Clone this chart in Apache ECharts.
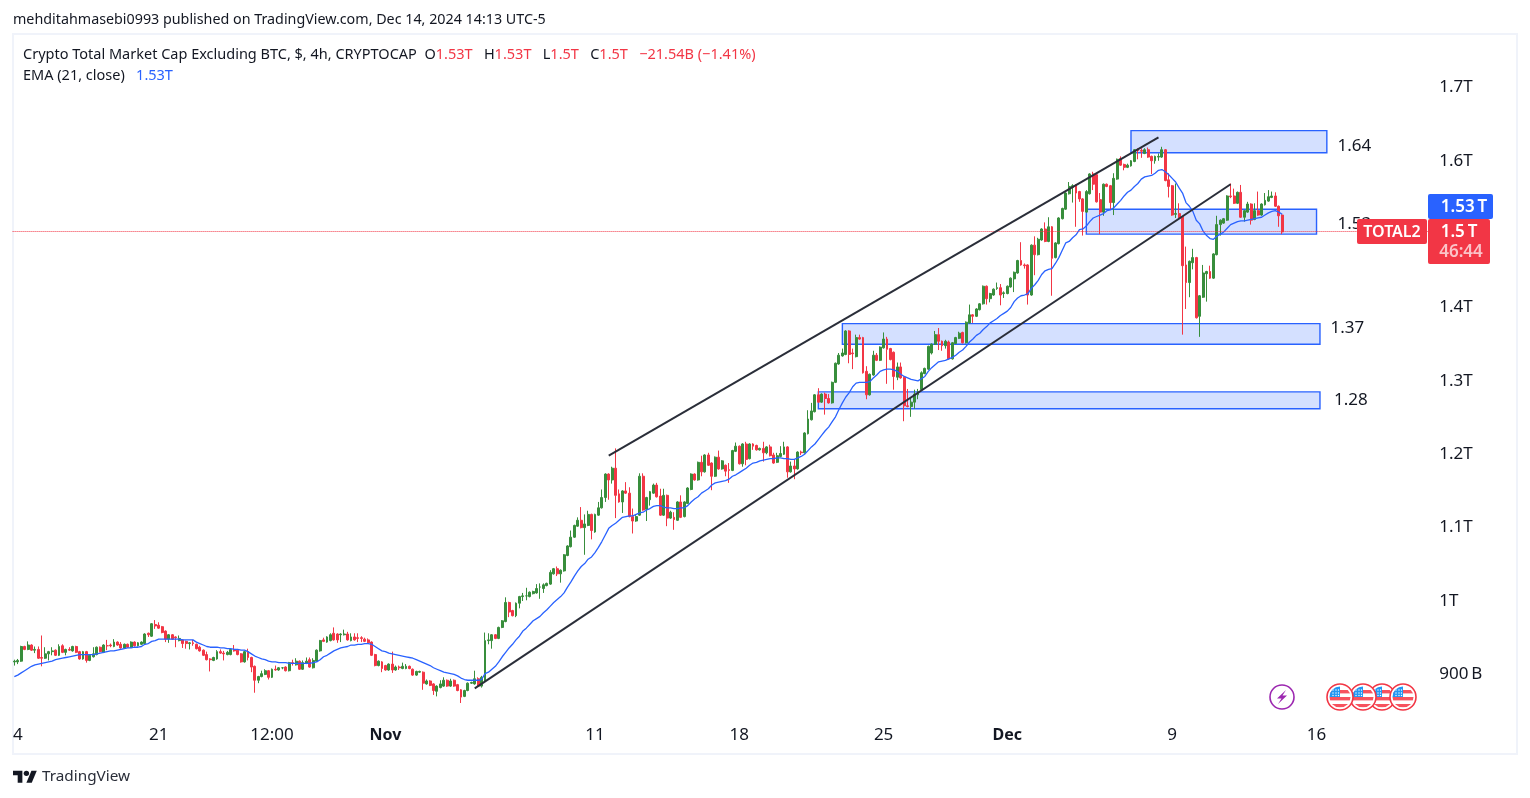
<!DOCTYPE html>
<html>
<head>
<meta charset="utf-8">
<title>TOTAL2</title>
<style>
  html, body { margin: 0; padding: 0; background: #fff; }
  #chart { width: 1530px; height: 798px; }
</style>
<script src="https://cdn.jsdelivr.net/npm/echarts@6/dist/echarts.min.js"></script>
</head>
<body>
<div id="chart"></div>
<script>
// values in billions of USD, one per 4h candle
const opens = [
917,917,918,938,934,940,933,934,923,922,
928,931,933,926,939,930,934,932,938,931,
921,931,919,924,927,937,930,939,940,938,
944,941,936,941,937,944,939,941,942,956,
952,968,967,965,959,948,954,951,946,947,
945,942,943,941,937,933,927,921,919,921,
931,929,927,927,934,933,928,917,931,923,
911,892,897,900,905,896,907,906,909,910,
905,916,913,918,907,915,920,909,918,932,
947,944,946,956,955,954,954,955,946,951,
950,950,948,947,944,927,912,917,912,906,
914,906,910,908,908,911,907,899,903,903,
887,891,887,877,882,884,892,884,892,886,
879,870,878,888,887,894,884,891,946,946,
954,949,964,972,998,987,980,997,1006,1007,
1006,1010,1011,1019,1017,1021,1023,1037,1044,1037,
1041,1062,1074,1087,1102,1110,1100,1103,1118,1094,
1117,1127,1141,1173,1165,1181,1146,1135,1150,1147,
1115,1109,1117,1170,1125,1138,1147,1158,1143,1117,
1144,1113,1114,1110,1135,1115,1133,1152,1173,1165,
1189,1176,1199,1188,1170,1196,1180,1185,1179,1178,
1204,1211,1187,1214,1194,1214,1212,1206,1208,1202,
1210,1199,1189,1197,1200,1210,1176,1184,1180,1203,
1202,1228,1247,1258,1281,1271,1282,1276,1270,1298,
1323,1334,1336,1368,1338,1333,1359,1359,1313,1281,
1308,1335,1328,1345,1357,1344,1339,1305,1319,1305,
1266,1265,1271,1281,1288,1310,1316,1338,1350,1363,
1354,1348,1353,1330,1351,1358,1366,1352,1379,1390,
1388,1397,1405,1429,1412,1417,1426,1427,1419,1419,
1428,1439,1447,1464,1458,1458,1417,1485,1472,1492,
1507,1490,1510,1468,1487,1521,1534,1555,1564,1567,
1558,1548,1530,1555,1582,1581,1547,1530,1568,1566,
1543,1575,1603,1595,1591,1593,1599,1615,1614,1610,
1615,1606,1600,1605,1605,1615,1574,1566,1527,1528,
1524,1458,1434,1461,1468,1388,1414,1446,1449,1440,
1472,1513,1515,1519,1552,1552,1542,1557,1523,1530,
1541,1520,1532,1526,1540,1545,1550,1552,1538,1526];

const closes = [
918,919,938,934,940,933,934,922,922,928,
931,932,926,938,930,934,933,938,930,921,
931,919,926,928,937,931,940,939,939,944,
940,936,941,937,944,939,943,944,955,954,
969,966,963,957,948,954,948,950,949,942,
942,943,942,935,932,926,920,920,923,931,
929,928,930,934,932,927,917,931,923,910,
892,897,901,905,896,907,906,909,909,905,
916,915,918,907,916,918,910,919,933,946,
945,951,954,947,947,955,955,947,951,947,
949,949,945,943,926,912,918,908,906,914,
906,910,909,911,911,908,899,904,904,888,
891,885,878,884,887,892,884,891,884,878,
869,878,888,889,894,884,896,946,947,954,
949,964,973,998,985,980,997,1006,1007,1007,
1012,1013,1017,1019,1022,1024,1039,1044,1037,1042,
1063,1075,1087,1103,1110,1100,1105,1118,1096,1118,
1127,1141,1173,1165,1181,1144,1135,1150,1147,1115,
1109,1115,1170,1124,1141,1149,1158,1142,1117,1144,
1113,1121,1111,1135,1114,1135,1154,1173,1165,1189,
1176,1199,1185,1170,1196,1180,1191,1177,1178,1205,
1211,1187,1214,1193,1214,1211,1206,1208,1202,1210,
1198,1188,1198,1201,1210,1176,1184,1180,1203,1202,
1229,1248,1259,1281,1271,1282,1276,1270,1298,1324,
1335,1338,1368,1336,1337,1359,1357,1311,1281,1309,
1335,1328,1346,1357,1343,1329,1306,1319,1304,1266,
1265,1271,1282,1285,1311,1317,1347,1350,1363,1354,
1348,1354,1330,1352,1359,1365,1352,1380,1390,1388,
1398,1405,1429,1412,1419,1425,1427,1417,1420,1429,
1440,1448,1464,1458,1457,1417,1485,1472,1493,1507,
1490,1510,1467,1488,1522,1535,1556,1565,1566,1556,
1548,1531,1558,1582,1568,1544,1530,1568,1565,1543,
1576,1602,1594,1591,1594,1600,1615,1614,1613,1615,
1605,1600,1606,1606,1615,1573,1565,1526,1528,1522,
1457,1434,1463,1468,1386,1416,1447,1449,1440,1473,
1513,1519,1521,1552,1551,1542,1557,1523,1532,1541,
1519,1532,1526,1541,1546,1551,1552,1538,1525,1503];

const highs = [
920,921,939,939,945,941,938,938,953,937,
932,937,934,941,941,935,937,939,939,932,
932,932,927,937,938,938,941,947,942,948,
945,944,942,942,945,945,944,945,956,957,
970,974,971,966,960,955,955,952,953,948,
946,944,947,942,939,934,931,922,924,933,
934,932,932,935,940,934,929,932,935,924,
912,898,905,907,906,908,912,910,910,911,
917,920,922,919,919,923,923,922,934,947,
950,952,956,964,956,956,961,958,956,956,
956,952,950,949,945,928,919,918,913,915,
931,912,912,916,914,912,908,905,905,904,
893,892,888,885,892,896,893,894,893,887,
880,879,889,890,905,896,898,957,956,955,
955,965,974,1005,999,988,998,1007,1011,1018,
1013,1014,1023,1024,1024,1025,1042,1045,1047,1043,
1064,1076,1096,1104,1114,1128,1118,1123,1119,1119,
1135,1152,1174,1174,1183,1208,1152,1151,1162,1155,
1126,1117,1174,1174,1142,1150,1160,1161,1153,1153,
1145,1123,1121,1136,1144,1136,1155,1174,1174,1190,
1198,1200,1202,1189,1197,1205,1192,1186,1188,1206,
1216,1212,1215,1217,1215,1215,1213,1209,1217,1211,
1213,1202,1202,1211,1217,1211,1190,1193,1204,1205,
1230,1260,1270,1282,1290,1283,1284,1282,1299,1325,
1338,1344,1369,1369,1344,1363,1363,1360,1320,1310,
1341,1338,1347,1366,1360,1345,1340,1325,1325,1306,
1289,1277,1288,1289,1313,1318,1348,1351,1368,1372,
1355,1356,1355,1353,1360,1367,1367,1381,1404,1391,
1399,1406,1430,1430,1420,1426,1434,1432,1422,1430,
1441,1449,1465,1489,1460,1459,1486,1497,1495,1508,
1516,1523,1511,1489,1523,1536,1557,1571,1568,1568,
1559,1549,1560,1583,1585,1582,1556,1569,1569,1567,
1583,1603,1606,1596,1596,1601,1616,1617,1617,1617,
1618,1607,1607,1610,1619,1616,1583,1567,1569,1542,
1525,1483,1464,1480,1469,1417,1458,1450,1457,1474,
1525,1520,1522,1553,1569,1562,1558,1567,1533,1544,
1542,1542,1558,1542,1556,1560,1558,1557,1539,1527];

const lows = [
912,914,917,933,933,932,929,921,911,921,
919,926,925,925,929,926,932,931,929,920,
920,916,918,923,926,930,929,933,937,937,
939,935,935,936,936,938,938,940,941,951,
951,962,962,956,944,943,947,937,945,936,
935,934,939,934,931,925,919,904,918,920,
928,919,926,926,931,926,916,916,919,903,
875,888,896,899,893,895,905,905,907,904,
904,912,912,906,906,914,909,908,917,931,
944,943,945,946,943,944,953,946,945,946,
944,944,944,942,925,911,911,903,905,905,
902,905,906,907,907,907,898,898,902,879,
886,884,872,870,881,883,883,883,883,877,
861,869,877,887,886,883,882,890,941,935,
948,948,963,971,978,979,978,990,1000,1001,
1005,1009,1010,1003,1011,1020,1022,1036,1034,1025,
1040,1061,1073,1086,1101,1099,1063,1102,1084,1093,
1116,1126,1135,1138,1160,1113,1134,1120,1146,1114,
1092,1108,1116,1123,1109,1130,1146,1141,1116,1116,
1102,1112,1097,1109,1113,1114,1132,1151,1164,1164,
1170,1175,1184,1151,1169,1179,1179,1170,1161,1177,
1203,1186,1183,1185,1193,1206,1205,1205,1190,1200,
1197,1187,1188,1196,1199,1168,1175,1166,1179,1199,
1201,1227,1246,1257,1270,1270,1254,1269,1269,1297,
1322,1333,1335,1324,1316,1332,1356,1310,1275,1280,
1307,1327,1327,1344,1296,1328,1288,1301,1303,1245,
1264,1251,1262,1275,1287,1309,1315,1336,1349,1342,
1341,1344,1329,1329,1350,1357,1351,1351,1378,1379,
1387,1396,1404,1404,1407,1416,1424,1403,1413,1418,
1427,1421,1446,1457,1453,1404,1416,1444,1471,1491,
1489,1489,1416,1467,1486,1520,1533,1554,1543,1510,
1544,1498,1529,1554,1560,1543,1500,1525,1564,1533,
1526,1574,1593,1587,1590,1592,1598,1602,1604,1609,
1604,1582,1596,1600,1604,1572,1550,1525,1522,1521,
1363,1398,1414,1452,1385,1360,1413,1408,1439,1439,
1471,1498,1514,1518,1549,1541,1541,1522,1517,1529,
1513,1519,1525,1525,1539,1544,1549,1537,1510,1500];

// EMA 21
const emaValues = [
897,899,902,905,908,911,913,914,915,916,
917,918,920,921,922,923,924,925,926,927,
927,927,927,927,928,929,930,931,932,932,
933,934,935,936,936,937,937,938,941,942,
945,946,948,948,948,948,948,948,948,947,
947,947,947,944,942,940,938,937,937,937,
936,936,935,935,934,934,933,933,931,928,
925,923,921,920,918,917,917,916,916,916,
915,915,915,915,915,915,915,916,917,920,
924,926,929,932,934,936,937,938,940,940,
941,941,942,942,941,938,935,932,931,929,
928,927,926,925,924,923,922,920,918,916,
914,912,909,907,905,903,902,901,900,898,
895,893,892,892,892,892,893,901,903,907,
911,917,924,930,936,941,947,952,959,963,
968,973,976,979,984,988,993,998,1002,1006,
1011,1019,1026,1034,1041,1047,1051,1057,1060,1066,
1073,1081,1090,1099,1103,1106,1110,1114,1115,1116,
1116,1118,1120,1121,1124,1126,1129,1130,1130,1128,
1127,1127,1126,1126,1127,1127,1130,1135,1139,1142,
1147,1150,1153,1158,1161,1162,1163,1164,1166,1170,
1172,1175,1178,1181,1185,1188,1189,1191,1192,1193,
1194,1194,1195,1195,1194,1194,1193,1193,1195,1197,
1200,1205,1210,1214,1220,1226,1232,1237,1244,1251,
1261,1270,1278,1284,1292,1297,1298,1298,1298,1299,
1304,1308,1313,1315,1316,1316,1315,1313,1309,1306,
1304,1302,1301,1300,1303,1306,1313,1318,1322,1326,
1327,1328,1330,1332,1335,1339,1342,1347,1353,1357,
1362,1365,1370,1374,1379,1382,1385,1389,1392,1395,
1400,1408,1413,1416,1417,1419,1426,1431,1437,1445,
1450,1452,1453,1460,1468,1478,1488,1490,1495,1499,
1506,1507,1511,1517,1522,1524,1526,1528,1532,1533,
1536,1541,1546,1552,1557,1560,1565,1569,1575,1578,
1579,1580,1583,1587,1588,1585,1581,1576,1571,1563,
1556,1543,1538,1531,1519,1514,1504,1498,1494,1493,
1497,1500,1503,1508,1513,1515,1517,1518,1518,1519,
1520,1521,1522,1523,1526,1529,1531,1532,1530,1527];

const slotCount = 412;
const tickSlots = [1, 42, 75, 108, 169, 211, 253, 289, 337, 379];
const tickTexts = ['4', '21', '12:00', 'Nov', '11', '18', '25', 'Dec', '9', '16'];
const boldTicks = ['Nov', 'Dec'];

// drawings, [slot from, slot to, value from, value to]
const trendLower = [134, 354, 881, 1568];
const trendUpper = [173, 333, 1198, 1632];
const zones = [
  [325, 382, 1641, 1611],
  [312, 379, 1534, 1500],
  [241, 380, 1378, 1350],
  [234, 380, 1285, 1262]
];
const zoneTexts = ['1.64', '1.53', '1.37', '1.28'];
const zoneTextSlots = [390, 390, 388, 389];
const zoneTextValues = [1620, 1514, 1372, 1274];

const lastPrice = 1503.6;

const publishLine = 'mehditahmasebi0993 published on TradingView.com, Dec 14, 2024 14:13 UTC-5';
const symbolName = 'Crypto Total Market Cap Excluding BTC, $, 4h, CRYPTOCAP';
const ohlcKeys = ['O', 'H', 'L', 'C'];
const ohlcTexts = ['1.53T', '1.53T', '1.5T', '1.5T'];
const changeText = '\u221221.54B (\u22121.41%)';
const emaName = 'EMA (21, close)';
const emaText = '1.53T';

const FONT = '"Noto Sans", sans-serif';
const DARK = '#131722';
const UP = '#388e3c';
const DOWN = '#f23645';
const BLUE = '#2962ff';

const categories = [];
for (let i = 0; i < slotCount; i++) categories.push('c' + i);

const candleData = opens.map((o, i) => [o, closes[i], lows[i], highs[i]]);

function flagIcon() {
  const svg = '<svg xmlns="http://www.w3.org/2000/svg" width="28" height="28" viewBox="0 0 28 28">' +
    '<defs><clipPath id="c"><circle cx="14" cy="14" r="10.5"/></clipPath></defs>' +
    '<circle cx="14" cy="14" r="13" fill="#fff" stroke="#f23645" stroke-width="1.6"/>' +
    '<g clip-path="url(#c)"><rect width="28" height="28" fill="#fff"/>' +
    '<rect y="7" width="28" height="3.4" fill="#f7525f"/><rect y="14" width="28" height="3.4" fill="#f7525f"/>' +
    '<rect y="21" width="28" height="3.4" fill="#f7525f"/><rect x="3" y="3" width="11" height="11" fill="#2196f3"/></g>' +
    '<g fill="#fff"><circle cx="7" cy="7" r=".7"/><circle cx="10" cy="7" r=".7"/><circle cx="12.5" cy="7" r=".7"/>' +
    '<circle cx="7" cy="10" r=".7"/><circle cx="10" cy="10" r=".7"/><circle cx="12.5" cy="10" r=".7"/>' +
    '<circle cx="7" cy="12.5" r=".7"/><circle cx="10" cy="12.5" r=".7"/><circle cx="12.5" cy="12.5" r=".7"/></g></svg>';
  return 'data:image/svg+xml,' + encodeURIComponent(svg);
}

let legendText = '{k|' + symbolName + '  }';
ohlcKeys.forEach((k, i) => {
  legendText += '{k|' + k + '}{r|' + ohlcTexts[i] + '   }';
});
legendText += '{r|' + changeText + '}';

const graphics = [
  { type: 'rect', z: -1, shape: { x: 13, y: 34, width: 1504, height: 720 }, style: { fill: 'none', stroke: '#f0f3fa', lineWidth: 2 } },
  { type: 'text', z: 50, x: 13, y: 20, style: { text: publishLine, fill: DARK, font: '14.3px ' + FONT, verticalAlign: 'middle' } },
  { type: 'text', z: 50, x: 23, y: 55, style: { text: legendText, verticalAlign: 'middle',
      rich: {
        k: { fill: DARK, fontSize: 14.5, fontFamily: FONT },
        r: { fill: DOWN, fontSize: 14.5, fontFamily: FONT }
      } } },
  { type: 'text', z: 50, x: 23, y: 76, style: { text: '{k|' + emaName + '   }{b|' + emaText + '}', verticalAlign: 'middle',
      rich: {
        k: { fill: DARK, fontSize: 14.5, fontFamily: FONT },
        b: { fill: BLUE, fontSize: 14.5, fontFamily: FONT }
      } } },
  // price tags
  { type: 'rect', z: 60, shape: { x: 1428, y: 194, width: 65, height: 25, r: 2 }, style: { fill: BLUE } },
  { type: 'text', z: 61, x: 1464, y: 207, style: { text: '1.53\u2009T', fill: '#fff', font: '600 17px ' + FONT, align: 'center', verticalAlign: 'middle' } },
  { type: 'rect', z: 60, shape: { x: 1428, y: 219, width: 62, height: 45, r: 2 }, style: { fill: DOWN } },
  { type: 'text', z: 61, x: 1459, y: 232, style: { text: '1.5\u2009T', fill: '#fff', font: '600 17px ' + FONT, align: 'center', verticalAlign: 'middle' } },
  { type: 'text', z: 61, x: 1461, y: 252, style: { text: '46:44', fill: '#fbc3c8', font: '600 17px ' + FONT, align: 'center', verticalAlign: 'middle' } },
  { type: 'rect', z: 60, shape: { x: 1357, y: 219, width: 70, height: 25, r: 2 }, style: { fill: DOWN } },
  { type: 'text', z: 61, x: 1392, y: 232, style: { text: 'TOTAL2', fill: '#fff', font: '600 16px ' + FONT, align: 'center', verticalAlign: 'middle' } },
  // events row
  { type: 'circle', z: 40, shape: { cx: 1282, cy: 697, r: 12 }, style: { fill: '#fff', stroke: '#9c27b0', lineWidth: 1.6 } },
  { type: 'polygon', z: 41, shape: { points: [[1286, 690], [1277, 698.5], [1281.5, 698.5], [1278, 704], [1287, 695.5], [1282.5, 695.5]] }, style: { fill: '#9c27b0' } },
  { type: 'image', z: 41, style: { image: flagIcon(), x: 1368, y: 683, width: 28, height: 28 } },
  { type: 'image', z: 42, style: { image: flagIcon(), x: 1389, y: 683, width: 28, height: 28 } },
  { type: 'image', z: 43, style: { image: flagIcon(), x: 1349, y: 683, width: 28, height: 28 } },
  { type: 'image', z: 44, style: { image: flagIcon(), x: 1326, y: 683, width: 28, height: 28 } },
  // footer logo
  { type: 'group', z: 50, x: 13, y: 768, scaleX: 0.67, scaleY: 0.67, children: [
      { type: 'polygon', shape: { points: [[14, 22], [7, 22], [7, 11], [0, 11], [0, 4], [14, 4]] }, style: { fill: DARK } },
      { type: 'polygon', shape: { points: [[28, 22], [20, 22], [27.5, 4], [35.5, 4]] }, style: { fill: DARK } },
      { type: 'circle', shape: { cx: 20, cy: 8, r: 4 }, style: { fill: DARK } }
    ] },
  { type: 'text', z: 50, x: 42, y: 777, style: { text: 'TradingView', fill: '#2a2e39', font: '15.3px ' + FONT, verticalAlign: 'middle' } }
];

const chart = echarts.init(document.getElementById('chart'));

chart.setOption({
  animation: false,
  backgroundColor: '#fff',
  graphic: graphics,
  grid: { left: 12.6, top: 14, width: 1415.6, height: 733.75 },
  xAxis: {
    type: 'category',
    data: categories,
    axisLine: { show: false },
    axisTick: { show: false },
    splitLine: { show: false },
    axisLabel: {
      inside: true,
      margin: 4,
      hideOverlap: false,
      interval: i => tickSlots.includes(i),
      formatter: (v, i) => {
        const t = tickTexts[tickSlots.indexOf(i)] || '';
        return boldTicks.includes(t) ? '{b|' + t + '}' : t;
      },
      color: DARK,
      fontSize: 17,
      fontFamily: FONT,
      rich: { b: { fontSize: 16, fontWeight: 700, fontFamily: FONT, color: DARK } }
    }
  },
  yAxis: {
    type: 'value',
    position: 'right',
    min: 800,
    max: 1800,
    interval: 100,
    scale: true,
    axisLine: { show: false },
    axisTick: { show: false },
    splitLine: { show: false },
    axisLabel: {
      margin: 11,
      align: 'left',
      color: DARK,
      fontSize: 17,
      fontFamily: FONT,
      padding: [2, 0, 0, 0],
      formatter: v => {
        if (v === 800 || v === 1800) return '';
        return v >= 1000 ? (v / 1000) + 'T' : v + '\u2009B';
      }
    }
  },
  series: [
    {
      name: 'TOTAL2',
      type: 'candlestick',
      data: candleData,
      barWidth: 2.4,
      itemStyle: { color: UP, color0: DOWN, borderColor: UP, borderColor0: DOWN, borderWidth: 1 },
      markLine: {
        silent: true,
        symbol: ['none', 'none'],
        label: { show: false },
        lineStyle: { color: DOWN, type: [1, 1], width: 1 },
        data: [{ yAxis: lastPrice }]
      }
    },
    {
      name: 'EMA',
      type: 'line',
      data: emaValues,
      showSymbol: false,
      z: 3,
      lineStyle: { color: BLUE, width: 1.3 }
    },
    {
      name: 'drawings',
      type: 'line',
      data: [],
      z: 4,
      markArea: {
        silent: true,
        itemStyle: { color: 'rgba(41,98,255,0.2)', borderColor: BLUE, borderWidth: 1.4 },
        data: zones.map(z => [{ coord: [z[0], z[2]] }, { coord: [z[1], z[3]] }])
      },
      markLine: {
        silent: true,
        symbol: ['none', 'none'],
        label: { show: false },
        lineStyle: { color: '#2a2e39', type: 'solid', width: 2 },
        data: [trendLower, trendUpper].map(t => [{ coord: [t[0], t[2]] }, { coord: [t[1], t[3]] }])
      },
      markPoint: {
        silent: true,
        symbol: 'circle',
        symbolSize: 1,
        itemStyle: { color: 'rgba(0,0,0,0)' },
        label: { show: true, position: 'inside', color: DARK, fontSize: 17, fontFamily: FONT, formatter: p => p.name },
        data: zoneTexts.map((t, i) => ({ name: t, coord: [zoneTextSlots[i], zoneTextValues[i]] }))
      }
    }
  ]
});
</script>
</body>
</html>
